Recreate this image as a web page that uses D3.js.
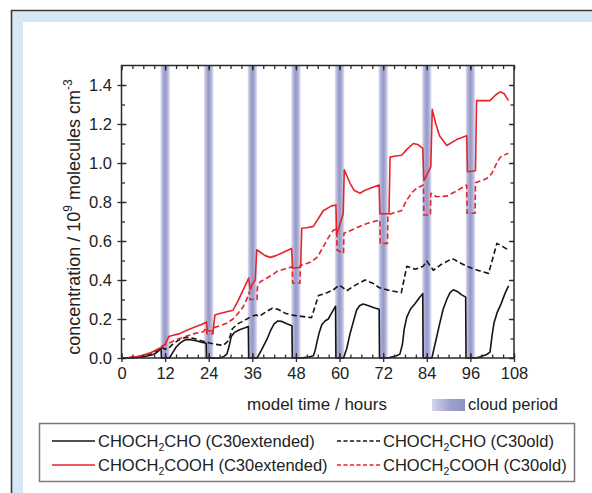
<!DOCTYPE html>
<html>
<head>
<meta charset="utf-8">
<script src="https://cdn.jsdelivr.net/npm/d3@7"></script>
<style>
  body { margin: 0; background: #fff; }
  svg { display: block; }
  text { font-family: "Liberation Sans", Arial, Helvetica, sans-serif; fill: #222; }
</style>
</head>
<body>
<svg id="chart" width="592" height="493"></svg>
<script>
// ---- data -------------------------------------------------------------
// model time in hours, concentration in 1e9 molecules cm^-3
const xMajorTicks = [0, 12, 24, 36, 48, 60, 72, 84, 96, 108];
const yMajorTicks = [0, 0.2, 0.4, 0.6, 0.8, 1.0, 1.2, 1.4];
const cloudCentres = [12, 24, 36, 48, 60, 72, 84, 96];
const cloudHalfWidth = 1.3;

// CHOCH2CHO, C30extended
const aldExtended = [
  [0,0],[3,0.001],[5,0.004],[7,0.01],[8.5,0.017],[9.5,0.025],[10.3,0.038],[10.9,0.052],[11,0],
  [13.2,0],[14,0.025],[15,0.055],[16,0.075],[17,0.088],[18,0.095],[19,0.094],[20.5,0.088],[22,0.081],[23.3,0.076],[23.4,0],
  [27,0],[28,0.006],[29,0.02],[29.6,0.06],[30.2,0.11],[31,0.13],[32.5,0.145],[34,0.155],[34.9,0.162],[35,0],
  [37.3,0],[38.5,0.04],[40,0.095],[41,0.14],[42,0.175],[43,0.19],[44,0.188],[45.5,0.176],[46.9,0.166],[47,0],
  [49.2,0],[51,0.003],[52.8,0.012],[53.3,0.04],[53.7,0.075],[54.4,0.13],[55.1,0.17],[56,0.19],[56.9,0.2],[57.8,0.23],[58.7,0.26],[58.9,0.265],[59,0],
  [61.1,0],[62,0.05],[62.9,0.126],[64,0.2],[64.7,0.246],[65.5,0.268],[66.5,0.277],[68,0.268],[69.5,0.258],[70.9,0.25],[71,0],
  [73.2,0],[74,0.004],[75.5,0.01],[76.6,0.02],[77.3,0.07],[77.8,0.15],[78.5,0.21],[79.5,0.25],[80.8,0.28],[82,0.31],[82.9,0.33],[83,0],
  [85.4,0],[86.5,0.09],[87.6,0.18],[88.5,0.25],[89.5,0.3],[90.4,0.335],[91.3,0.35],[92.5,0.34],[93.5,0.325],[94.7,0.312],[94.8,0],
  [97.3,0],[98.5,0.005],[100.5,0.018],[101.4,0.03],[102,0.12],[102.5,0.18],[103.3,0.23],[104.5,0.28],[105.5,0.33],[106.5,0.37]
];

// CHOCH2CHO, C30old
const aldOld = [
  [0,0],[4,0.003],[6,0.01],[8,0.02],[10,0.04],[11,0.055],[12,0.045],[13,0.05],[14,0.07],[16,0.095],[18,0.107],[20,0.1],
  [22,0.088],[24,0.078],[26,0.07],[28,0.065],[29.5,0.09],[30.5,0.15],[32,0.175],[34,0.195],[36,0.215],[37,0.22],[38,0.215],
  [40,0.24],[41.5,0.255],[43,0.25],[45,0.23],[47,0.22],[49,0.215],[51,0.21],[52.3,0.207],[53.5,0.28],[54.2,0.32],[56,0.33],
  [58.3,0.35],[60,0.374],[62,0.345],[64,0.37],[67,0.4],[69,0.385],[71,0.36],[74,0.345],[77,0.335],[78.5,0.47],[80.8,0.455],
  [83,0.47],[84,0.497],[85.8,0.45],[88,0.48],[91,0.51],[93,0.49],[95,0.47],[98,0.45],[101,0.434],[103.3,0.588],[106.5,0.554]
];

// CHOCH2COOH, C30extended
const acidExtended = [
  [0,0],[2,0.002],[4,0.006],[6,0.015],[8,0.027],[10,0.045],[11,0.055],[12,0.07],[12.5,0.09],[13,0.11],[14,0.115],[16,0.125],
  [18,0.142],[20,0.158],[22,0.172],[23.4,0.185],[23.6,0.14],[25.2,0.14],[25.7,0.22],[27,0.228],[29,0.237],[30.7,0.245],
  [32,0.29],[33,0.33],[34,0.37],[35,0.41],[35.4,0.35],[36,0.38],[36.8,0.4],[37.2,0.555],[38,0.545],[39.5,0.525],[41,0.516],
  [42.5,0.525],[44,0.537],[46.8,0.562],[47.1,0.46],[49.3,0.465],[49.6,0.665],[51,0.668],[52.8,0.675],[54,0.71],[55.5,0.755],
  [57.8,0.78],[59,0.785],[59.2,0.63],[61,0.74],[61.3,0.965],[62.9,0.896],[64,0.86],[65.6,0.845],[67,0.86],[68.4,0.87],
  [70.9,0.887],[71.1,0.74],[73.6,0.74],[73.9,1.03],[75,1.035],[77.1,1.04],[78.5,1.07],[80.3,1.1],[81.5,1.095],[82.9,1.075],
  [83.2,0.91],[85.1,0.98],[85.5,1.275],[86.5,1.2],[87.5,1.14],[89.5,1.09],[92.2,1.12],[95,1.14],[95.2,0.955],[97.4,0.96],
  [97.7,1.32],[101.4,1.32],[103,1.35],[104.2,1.365],[105.3,1.355],[106.5,1.32]
];

// CHOCH2COOH, C30old
const acidOld = [
  [0,0],[4,0.004],[6,0.012],[8,0.025],[10,0.045],[11,0.06],[12,0.068],[13,0.075],[14,0.085],[16,0.1],[18,0.113],[20,0.125],
  [22.5,0.135],[23.4,0.155],[23.5,0.125],[25.2,0.125],[25.3,0.155],[27,0.165],[28.9,0.178],[30.7,0.2],[31.7,0.22],[33.5,0.263],
  [34.9,0.32],[35.2,0.34],[35.3,0.3],[37.3,0.3],[37.4,0.362],[38.1,0.39],[40,0.41],[41.8,0.43],[42.7,0.443],[45.5,0.46],
  [47,0.468],[47.1,0.383],[49.1,0.383],[49.2,0.475],[51,0.485],[52.3,0.494],[54,0.52],[55.5,0.57],[57,0.62],[58.3,0.656],
  [59.2,0.66],[59.3,0.554],[61.1,0.537],[61.2,0.64],[62,0.645],[65,0.67],[67.5,0.69],[71.1,0.708],[71.2,0.588],[73.2,0.588],
  [73.3,0.733],[75,0.745],[77,0.755],[78.5,0.81],[80,0.85],[81.2,0.87],[83.1,0.887],[83.2,0.733],[85,0.733],[85.1,0.845],
  [86.7,0.827],[89.5,0.83],[92,0.855],[95,0.887],[95.1,0.742],[97.3,0.742],[97.4,0.899],[100.5,0.92],[101.9,0.947],[103,0.99],
  [104.2,1.03],[106.4,1.05]
];

// legend text, split around the subscript
const legendLabels = [
  ["CHOCH", "2", "CHO (C30extended)"],
  ["CHOCH", "2", "CHO (C30old)"],
  ["CHOCH", "2", "COOH (C30extended)"],
  ["CHOCH", "2", "COOH (C30old)"]
];

// ---- drawing ------------------------------------------------------------
const svg = d3.select("#chart");
const W = 592, H = 493;
const plot = { left: 121.5, right: 514, top: 65.5, bottom: 358 };
const BLACK = "#151515", RED = "#e8232b", AXIS = "#2a2a2a";

// page frame
svg.append("rect").attr("x", 0).attr("y", 0).attr("width", W).attr("height", H).attr("fill", "#fff");
svg.append("rect").attr("x", 11).attr("y", 10).attr("width", W - 11).attr("height", H - 10).attr("fill", "#d6e8f5");
svg.append("rect").attr("x", 23).attr("y", 22).attr("width", W - 23).attr("height", H - 22).attr("fill", "#fff");
svg.append("line").attr("x1", 11).attr("x2", W).attr("y1", 10.5).attr("y2", 10.5).attr("stroke", "#3a3a3a").attr("stroke-width", 1.6);
svg.append("line").attr("x1", 11.5).attr("x2", 11.5).attr("y1", 10).attr("y2", H).attr("stroke", "#3a3a3a").attr("stroke-width", 1.6);

const x = d3.scaleLinear().domain([0, 108]).range([plot.left, plot.right]);
const y = d3.scaleLinear().domain([0, 1.5]).range([plot.bottom, plot.top]);

const defs = svg.append("defs");
const cloudGrad = defs.append("linearGradient").attr("id", "cloudGrad").attr("x1", "0").attr("x2", "1").attr("y1", "0").attr("y2", "0");
[[0, "#e2e3f2"], [0.25, "#b0b2d8"], [0.5, "#9597c6"], [0.75, "#b0b2d8"], [1, "#e2e3f2"]]
  .forEach(([o, c]) => cloudGrad.append("stop").attr("offset", o).attr("stop-color", c));
const swatchGrad = defs.append("linearGradient").attr("id", "swatchGrad").attr("x1", "0").attr("x2", "1").attr("y1", "0").attr("y2", "0");
[[0, "#d4d6ec"], [0.55, "#9fa1cc"], [1, "#8e91c3"]]
  .forEach(([o, c]) => swatchGrad.append("stop").attr("offset", o).attr("stop-color", c));

// cloud periods
svg.append("g").selectAll("rect").data(cloudCentres).join("rect")
  .attr("x", d => x(d - cloudHalfWidth))
  .attr("width", d => x(d + cloudHalfWidth) - x(d - cloudHalfWidth))
  .attr("y", y(1.5)).attr("height", y(0) - y(1.5))
  .attr("fill", "url(#cloudGrad)");

// series
const line = d3.line().x(d => x(d[0])).y(d => y(d[1]));
const series = [
  { data: aldOld, color: BLACK, dash: "5.5,3" },
  { data: acidOld, color: RED, dash: "5.5,3" },
  { data: aldExtended, color: BLACK, dash: null },
  { data: acidExtended, color: RED, dash: null }
];
svg.append("g").selectAll("path").data(series).join("path")
  .attr("d", d => line(d.data))
  .attr("fill", "none")
  .attr("stroke", d => d.color)
  .attr("stroke-width", 1.6)
  .attr("stroke-linejoin", "round")
  .attr("stroke-dasharray", d => d.dash);

// axes
const xMinor = d3.range(0, 109, 3);
const yMinor = d3.range(0, 15).map(i => +(i * 0.1).toFixed(1));
const fmtY = d3.format(".1f");

function styleAxis(g) {
  g.select(".domain").remove();
  g.selectAll(".tick line").attr("stroke", AXIS).attr("stroke-width", 1.3);
  g.selectAll(".tick text").attr("fill", "#222").style("font-size", "16.5px")
    .style("font-family", '"Liberation Sans", Arial, sans-serif');
}

// bottom: labelled major ticks crossing the axis, minor ticks inside
svg.append("g").attr("transform", `translate(0,${plot.bottom})`)
  .call(d3.axisBottom(x).tickValues(xMajorTicks).tickSize(4).tickPadding(5))
  .call(styleAxis);
svg.append("g").attr("transform", `translate(0,${plot.bottom})`)
  .call(d3.axisTop(x).tickValues(xMajorTicks).tickSize(5).tickFormat(""))
  .call(styleAxis);
svg.append("g").attr("transform", `translate(0,${plot.bottom})`)
  .call(d3.axisTop(x).tickValues(xMinor).tickSize(3.5).tickFormat(""))
  .call(styleAxis);
// top
svg.append("g").attr("transform", `translate(0,${plot.top})`)
  .call(d3.axisBottom(x).tickValues(xMajorTicks).tickSize(5).tickFormat(""))
  .call(styleAxis);
svg.append("g").attr("transform", `translate(0,${plot.top})`)
  .call(d3.axisBottom(x).tickValues(xMinor).tickSize(3.5).tickFormat(""))
  .call(styleAxis);
// left
svg.append("g").attr("transform", `translate(${plot.left},0)`)
  .call(d3.axisLeft(y).tickValues(yMajorTicks).tickSize(4).tickPadding(5.5).tickFormat(fmtY))
  .call(styleAxis);
svg.append("g").attr("transform", `translate(${plot.left},0)`)
  .call(d3.axisRight(y).tickValues(yMajorTicks).tickSize(5).tickFormat(""))
  .call(styleAxis);
svg.append("g").attr("transform", `translate(${plot.left},0)`)
  .call(d3.axisRight(y).tickValues(yMinor).tickSize(3.5).tickFormat(""))
  .call(styleAxis);
// right
svg.append("g").attr("transform", `translate(${plot.right},0)`)
  .call(d3.axisLeft(y).tickValues(yMajorTicks).tickSize(5).tickFormat(""))
  .call(styleAxis);
svg.append("g").attr("transform", `translate(${plot.right},0)`)
  .call(d3.axisLeft(y).tickValues(yMinor).tickSize(3.5).tickFormat(""))
  .call(styleAxis);

// plot frame
svg.append("rect")
  .attr("x", plot.left).attr("y", plot.top)
  .attr("width", plot.right - plot.left).attr("height", plot.bottom - plot.top)
  .attr("fill", "none").attr("stroke", AXIS).attr("stroke-width", 1.5);

// axis titles
const yTitle = svg.append("text")
  .attr("transform", `translate(80,217) rotate(-90)`)
  .attr("text-anchor", "middle").style("font-size", "18px");
yTitle.append("tspan").text("concentration / 10");
yTitle.append("tspan").attr("dy", -8).style("font-size", "12px").text("9");
yTitle.append("tspan").attr("dy", 8).text(" molecules cm");
yTitle.append("tspan").attr("dy", -8).style("font-size", "12px").text("-3");

svg.append("text").attr("x", 317).attr("y", 410).attr("text-anchor", "middle")
  .style("font-size", "17px").text("model time / hours");

// cloud period key
svg.append("rect").attr("x", 432).attr("y", 399).attr("width", 33).attr("height", 12).attr("fill", "url(#swatchGrad)");
svg.append("text").attr("x", 468).attr("y", 410).style("font-size", "16.5px").text("cloud period");

// legend box
svg.append("rect").attr("x", 39.5).attr("y", 423.5).attr("width", 535).attr("height", 58)
  .attr("fill", "#fff").attr("stroke", "#7a7a7a").attr("stroke-width", 1.5);

const legendItems = [
  { label: legendLabels[0], color: BLACK, dash: null, lx: 52, ly: 441 },
  { label: legendLabels[1], color: BLACK, dash: "4,2.5", lx: 337, ly: 441 },
  { label: legendLabels[2], color: RED, dash: null, lx: 52, ly: 465 },
  { label: legendLabels[3], color: RED, dash: "4,2.5", lx: 337, ly: 465 }
];
const leg = svg.append("g").selectAll("g").data(legendItems).join("g");
leg.append("line")
  .attr("x1", d => d.lx).attr("x2", d => d.lx + 43)
  .attr("y1", d => d.ly).attr("y2", d => d.ly)
  .attr("stroke", d => d.color).attr("stroke-width", 1.6)
  .attr("stroke-dasharray", d => d.dash);
const lt = leg.append("text")
  .attr("x", d => d.lx + 46).attr("y", d => d.ly + 6)
  .style("font-size", "16.5px");
lt.append("tspan").text(d => d.label[0]);
lt.append("tspan").attr("dy", 4).style("font-size", "10.5px").text(d => d.label[1]);
lt.append("tspan").attr("dy", -4).text(d => d.label[2]);
</script>
</body>
</html>
